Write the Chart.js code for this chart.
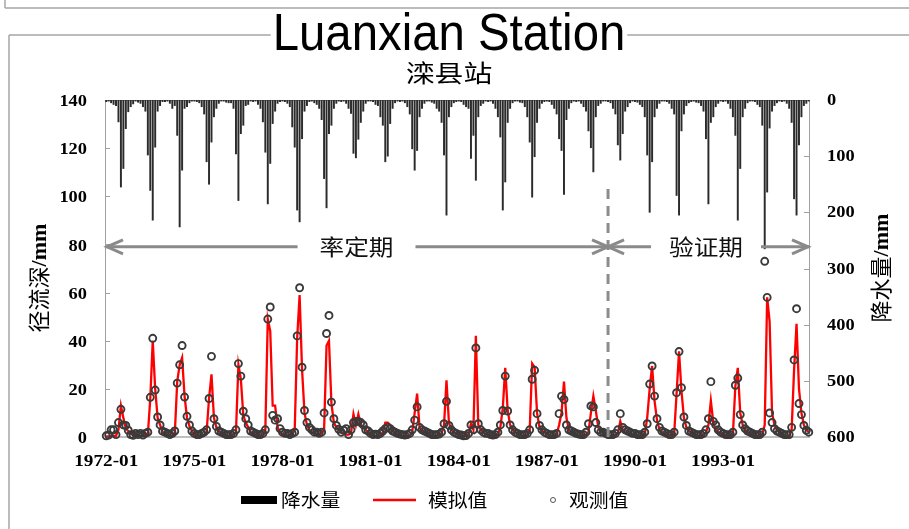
<!DOCTYPE html>
<html>
<head>
<meta charset="utf-8">
<script src="https://cdn.jsdelivr.net/npm/chart.js@4.4.1/dist/chart.umd.min.js"></script>
<style>
  html, body { margin: 0; padding: 0; background: #fff; overflow: hidden; }
  canvas { display: block; }
</style>
</head>
<body>
<canvas id="chart" width="909" height="529"></canvas>
<script>
// Monthly categories, 1972-01 .. 1995-12
const firstYear = 1972, lastYear = 1995;
const months = [];
for (let y = firstYear; y <= lastYear; y++) {
  for (let m = 1; m <= 12; m++) months.push(y + '-' + String(m).padStart(2, '0'));
}

// 降水量 (mm), one row per year
const precipitation = [
  3, 2, 5, 8, 10, 39, 155, 122, 51, 21, 12, 7,        // 1972
  2, 4, 6, 12, 20, 98, 161, 214, 84, 20, 10, 3,       // 1973
  3, 2, 6, 15, 10, 63, 226, 125, 15, 12, 5, 2,        // 1974
  2, 3, 5, 12, 25, 110, 150, 75, 30, 15, 6, 2,        // 1975
  2, 4, 5, 5, 15, 96, 179, 60, 45, 10, 8, 2,          // 1976
  3, 2, 8, 15, 39, 93, 185, 113, 42, 20, 6, 3,        // 1977
  2, 3, 6, 12, 48, 84, 196, 217, 69, 20, 10, 3,       // 1978
  2, 5, 8, 15, 35, 140, 192, 60, 45, 15, 6, 2,        // 1979
  3, 2, 6, 15, 24, 95, 103, 70, 40, 20, 6, 2,         // 1980
  2, 3, 8, 10, 30, 45, 110, 100, 42, 15, 5, 2,        // 1981
  3, 2, 5, 12, 25, 87, 125, 90, 30, 15, 6, 2,         // 1982
  2, 4, 6, 15, 20, 40, 98, 205, 30, 12, 5, 3,         // 1983
  2, 3, 8, 12, 15, 104, 63, 143, 30, 10, 6, 2,        // 1984
  3, 2, 6, 15, 30, 66, 196, 146, 40, 15, 5, 2,        // 1985
  2, 4, 5, 12, 30, 75, 173, 101, 40, 15, 6, 3,        // 1986
  2, 3, 8, 15, 25, 69, 90, 168, 35, 15, 5, 2,         // 1987
  3, 2, 6, 12, 20, 55, 85, 128, 30, 10, 6, 2,         // 1988
  2, 3, 5, 15, 25, 80, 107, 60, 20, 12, 5, 2,         // 1989
  3, 4, 8, 12, 30, 98, 200, 110, 30, 15, 6, 2,        // 1990
  2, 3, 6, 15, 25, 170, 205, 55, 25, 10, 5, 3,        // 1991
  2, 4, 5, 10, 20, 69, 185, 40, 30, 12, 6, 2,         // 1992
  3, 2, 6, 15, 30, 63, 214, 122, 30, 15, 5, 2,        // 1993
  2, 3, 8, 12, 45, 265, 164, 50, 20, 10, 5, 2,        // 1994
  3, 2, 6, 15, 40, 176, 205, 80, 30, 10, 6, 2         // 1995
];

// 模拟值: simulated runoff depth (mm)
const simulated = [
  0.3, 0.3, 0.5, 0.5, 0.5, 3, 13, 8, 3.5, 2.5, 1.5, 0.8,      // 1972
  0.8, 0.6, 0.5, 0.5, 0.6, 1, 16, 40, 20, 8, 5, 2,            // 1973
  1, 0.6, 0.5, 0.5, 1, 23, 30, 33, 17, 8, 4.5, 2.5,           // 1974
  1, 0.6, 0.5, 0.5, 0.8, 2, 16, 26, 8, 4, 2.5, 1.5,           // 1975
  1, 0.6, 0.5, 0.5, 1, 2, 30, 24, 9, 6, 4, 2,                 // 1976
  1, 0.6, 0.5, 0.5, 1, 3, 49, 44, 13, 13, 4, 2,               // 1977
  1.2, 0.8, 0.5, 0.5, 1, 3, 41, 59, 28, 10, 5, 3,             // 1978
  2, 1.5, 1, 1, 1.5, 3, 38, 40, 14, 6, 4, 3,                  // 1979
  2, 1.5, 1, 1, 1.5, 9.5, 5, 9.5, 5, 4, 3, 2,                 // 1980
  0.8, 0.5, 0.4, 0.4, 0.6, 1.5, 6, 6, 5, 2.5, 1.5, 1,         // 1981
  0.8, 0.5, 0.4, 0.4, 0.6, 2, 10, 18, 4, 2.5, 2, 1.5,         // 1982
  1, 0.6, 0.5, 0.5, 0.8, 1.5, 5, 23.5, 6, 3, 2, 1.2,          // 1983
  0.8, 0.5, 0.4, 0.4, 1, 5.5, 3, 42, 5, 3, 2, 1.2,            // 1984
  1, 0.6, 0.5, 0.5, 1, 4, 12, 28.7, 11, 5, 3, 2,              // 1985
  1.2, 0.8, 0.5, 0.5, 1, 3, 30.5, 29, 10, 4, 2.5, 2,          // 1986
  1.2, 0.8, 0.5, 0.5, 1, 5, 10, 23, 8, 3, 2, 1.5,             // 1987
  1, 0.6, 0.5, 0.5, 1, 2, 10, 17, 11, 4, 2.5, 2,              // 1988
  1, 0.6, 0.5, 0.5, 0.8, 1.5, 6.5, 3, 2, 1.5, 1.2, 1,         // 1989
  1, 0.6, 0.5, 0.5, 1, 8, 20, 29.5, 15, 7, 3, 2,              // 1990
  1.2, 0.8, 0.5, 0.5, 1, 18, 35.6, 19, 8, 4, 2.5, 2,          // 1991
  1, 0.6, 0.5, 0.5, 0.8, 2, 5, 15, 6, 3, 2, 1.5,              // 1992
  1, 0.6, 0.5, 0.5, 1, 21, 28.7, 10, 5, 3, 2, 1.5,            // 1993
  1, 0.6, 0.5, 0.5, 1, 5, 58, 48, 10, 5, 3, 2,                // 1994
  1, 0.6, 0.5, 0.5, 3, 28, 47, 20, 10, 5, 3, 2                // 1995
];

// 观测值: observed runoff depth (mm)
const observed = [
  0.5, 0.8, 3, 3, 1, 6, 11.5, 5, 4.8, 2.8, 1, 0.7,            // 1972
  1.5, 1, 1.5, 0.8, 1.5, 2, 16.5, 41, 19.5, 8.3, 5, 2.4,      // 1973
  2, 1.5, 1, 1.5, 2.5, 22.4, 30, 38, 16.6, 8.6, 5, 2.5,       // 1974
  1.5, 1, 1, 1.5, 2, 3, 16, 33.5, 7.6, 4.4, 2.5, 2,           // 1975
  1.5, 1, 1, 1, 1.5, 3, 30.5, 25.3, 10.7, 7.6, 5, 2.5,        // 1976
  2, 1.5, 1, 1, 1.5, 3, 49, 54, 9, 7, 7.6, 3.5,               // 1977
  2, 1.5, 1.5, 1, 1.5, 2, 42, 62, 29, 11, 6, 4,               // 1978
  3, 2, 2, 1.5, 2, 10, 43, 50.5, 14.5, 7.6, 4.8, 3.2,         // 1979
  2, 2.8, 3.5, 1, 3, 6, 6.5, 6.5, 6, 5, 3, 2.5,               // 1980
  1.5, 1, 1.2, 1, 1.5, 2.5, 3.5, 4, 3.5, 2.5, 2, 1.5,         // 1981
  1.2, 1, 0.8, 1, 1.5, 3, 7, 12.5, 4, 3, 2.5, 2,              // 1982
  1.5, 1, 1, 1, 1.2, 2, 5.5, 14.8, 4.8, 3, 2, 1.5,            // 1983
  1, 0.8, 0.5, 0.6, 1.5, 5, 3, 37, 5.5, 3, 2, 1.5,            // 1984
  1.5, 1, 0.8, 1, 2, 5, 11, 25.3, 10.8, 5, 3, 2,              // 1985
  1.5, 1, 1, 1, 1.5, 3, 24, 27.7, 9.7, 4.8, 3, 2,             // 1986
  1.5, 1, 1, 1, 1.5, 9.7, 17, 15.6, 5, 3, 2.5, 2,             // 1987
  1.5, 1.2, 1, 1, 2, 5.5, 12.9, 12.5, 6, 3, 2, 2,             // 1988
  1.5, 1, 1, 1, 1.5, 3, 9.7, 4, 3, 2.5, 2, 1.5,               // 1989
  1.5, 1, 1, 1, 2, 5.5, 22, 29.5, 17, 7.6, 4, 2.5,            // 1990
  2, 1.5, 1, 1, 2, 18.4, 35.5, 20.5, 8.3, 4.8, 2.5, 2,        // 1991
  1.5, 1, 1, 1, 1.5, 3, 7.6, 23, 6.5, 5, 3, 2,                // 1992
  1.5, 1, 1, 1, 2, 21.5, 24.5, 9.3, 5, 3.5, 2.5, 2,           // 1993
  1.5, 1, 1, 1, 2, 73, 58, 10, 6, 3.5, 2.5, 2,                // 1994
  1.5, 1, 1, 1, 4, 32, 53.3, 13.9, 9.3, 4.8, 2.8, 2           // 1995
];

// Axis ticks
const runoffTicks = [0, 20, 40, 60, 80, 100, 120, 140];
const rainTicks = [0, 100, 200, 300, 400, 500, 600];
const dateTicks = ['1972-01', '1975-01', '1978-01', '1981-01', '1984-01', '1987-01', '1990-01', '1993-01'];

// Calibration / validation split and the level of the period arrows
const splitMonth = '1989-02';
const periodArrowLevel = 79;
const splitLineTop = 103;

const SERIF_B = 'bold 17px "Liberation Serif", "Times New Roman", serif';
const CJK = '"Noto Sans CJK SC", "Noto Sans", sans-serif';

function stretchedText(ctx, s, x, y, font, align, sx, color, baseline) {
  ctx.save();
  ctx.font = font;
  ctx.fillStyle = color || '#000';
  ctx.textAlign = align;
  ctx.textBaseline = baseline || 'middle';
  ctx.translate(x, y);
  ctx.scale(sx, 1);
  ctx.fillText(s, 0, 0);
  ctx.restore();
}

function line(ctx, x1, y1, x2, y2) {
  ctx.beginPath(); ctx.moveTo(x1, y1); ctx.lineTo(x2, y2); ctx.stroke();
}

function chevron(ctx, tipX, y, dir) {
  // dir = -1 points left, +1 points right
  ctx.beginPath();
  ctx.moveTo(tipX - dir * 16, y - 7);
  ctx.lineTo(tipX, y);
  ctx.lineTo(tipX - dir * 16, y + 7);
  ctx.stroke();
}

function rotatedTitle(ctx, cx, cy, cjkPart, latinPart) {
  ctx.save();
  ctx.translate(cx, cy);
  ctx.rotate(-Math.PI / 2);
  ctx.fillStyle = '#000';
  ctx.textBaseline = 'middle';
  ctx.textAlign = 'left';
  const f1 = '22px ' + CJK;
  const f2 = 'bold 22px "Liberation Serif", serif';
  ctx.font = f1; const w1 = ctx.measureText(cjkPart).width;
  ctx.font = f2; const w2 = ctx.measureText(latinPart).width;
  let x = -(w1 + w2) / 2;
  ctx.font = f1; ctx.fillText(cjkPart, x, 0);
  ctx.font = f2; ctx.fillText(latinPart, x + w1, 1);
  ctx.restore();
}

const decor = {
  id: 'decor',
  beforeDraw(chart) {
    const ctx = chart.ctx;
    ctx.save();
    ctx.fillStyle = '#fff';
    ctx.fillRect(0, 0, chart.width, chart.height);

    // outer frames
    ctx.strokeStyle = '#a6a6a6';
    ctx.lineWidth = 1.5;
    line(ctx, 5, 0, 5, 8);
    line(ctx, 5, 8, chart.width, 8);

    // title
    const titleFont = '52px "Liberation Sans", Arial, sans-serif';
    ctx.font = titleFont;
    const tw = ctx.measureText('Luanxian Station').width * 0.91;
    const cx = 449;
    line(ctx, 9, 35, cx - tw / 2 - 2, 35);
    line(ctx, cx + tw / 2 + 2, 35, chart.width, 35);
    line(ctx, 9, 35, 9, chart.height);
    stretchedText(ctx, 'Luanxian Station', cx, 50, titleFont, 'center', 0.91, '#000', 'alphabetic');
    stretchedText(ctx, '滦县站', cx, 73, '24px ' + CJK, 'center', 1.2, '#000');
    ctx.restore();
  },
  beforeDatasetsDraw(chart) {
    const ctx = chart.ctx;
    const a = chart.chartArea;
    const xs = chart.scales.x, ys = chart.scales.y, y2 = chart.scales.y2;
    ctx.save();
    // plot frame
    ctx.strokeStyle = '#a0a0a0';
    ctx.lineWidth = 1;
    line(ctx, a.left + 0.5, a.top, a.left + 0.5, a.bottom);
    line(ctx, a.right - 0.5, a.top, a.right - 0.5, a.bottom);
    line(ctx, a.left, a.top + 0.5, a.right, a.top + 0.5);
    // inward tick marks
    runoffTicks.forEach(v => {
      const y = Math.round(ys.getPixelForValue(v)) + 0.5;
      line(ctx, a.left, y, a.left + 5, y);
    });
    rainTicks.forEach(v => {
      const y = Math.round(y2.getPixelForValue(v)) + 0.5;
      line(ctx, a.right - 6, y, a.right, y);
    });
    const half = (xs.getPixelForValue(1) - xs.getPixelForValue(0)) / 2;
    dateTicks.forEach(m => {
      const x = Math.round(xs.getPixelForValue(months.indexOf(m)) - half) + 0.5;
      line(ctx, x, a.bottom - 4, x, a.bottom);
    });
    // category axis line
    ctx.strokeStyle = '#bfbfbf';
    ctx.lineWidth = 2;
    line(ctx, a.left, a.bottom, a.right, a.bottom);
    ctx.restore();
  },
  afterDatasetsDraw(chart) {
    const ctx = chart.ctx;
    const a = chart.chartArea;
    const xs = chart.scales.x, ys = chart.scales.y;
    const splitX = xs.getPixelForValue(months.indexOf(splitMonth));
    const ay = ys.getPixelForValue(periodArrowLevel);
    ctx.save();
    // dashed split line
    ctx.strokeStyle = '#8c8c8c';
    ctx.lineWidth = 3;
    ctx.setLineDash([10, 7]);
    line(ctx, splitX, ys.getPixelForValue(splitLineTop), splitX, a.bottom);
    ctx.setLineDash([]);

    // period arrows
    ctx.strokeStyle = '#8a8a8a';
    ctx.lineWidth = 3;
    ctx.lineJoin = 'miter';
    const font = '22px ' + CJK;
    ctx.font = font;
    const sx = 1.12;
    const wCal = ctx.measureText('率定期').width * sx;
    const wVal = ctx.measureText('验证期').width * sx;
    const gap = 22;
    const cCal = (a.left + splitX) / 2;
    const cVal = (splitX + a.right) / 2 - 3;
    line(ctx, a.left + 1, ay, cCal - wCal / 2 - gap, ay);
    line(ctx, cCal + wCal / 2 + gap, ay, splitX, ay);
    chevron(ctx, a.left + 2, ay, -1);
    chevron(ctx, splitX, ay, 1);
    line(ctx, splitX, ay, cVal - wVal / 2 - gap + 4, ay);
    line(ctx, cVal + wVal / 2 + gap - 4, ay, a.right - 1, ay);
    chevron(ctx, splitX, ay, -1);
    chevron(ctx, a.right - 2, ay, 1);
    stretchedText(ctx, '率定期', cCal, ay, font, 'center', sx, '#111');
    stretchedText(ctx, '验证期', cVal, ay, font, 'center', sx, '#111');
    ctx.restore();
  },
  afterDraw(chart) {
    const ctx = chart.ctx;
    const a = chart.chartArea;
    const xs = chart.scales.x, ys = chart.scales.y, y2 = chart.scales.y2;
    ctx.save();
    // tick labels
    runoffTicks.forEach(v => {
      stretchedText(ctx, String(v), a.left - 18, ys.getPixelForValue(v) + 2, 'bold 16px "Liberation Serif", serif', 'right', 1.15, '#000');
    });
    rainTicks.forEach(v => {
      stretchedText(ctx, String(v), a.right + 17, y2.getPixelForValue(v) + 1, 'bold 16px "Liberation Serif", serif', 'left', 1.15, '#000');
    });
    dateTicks.forEach(m => {
      stretchedText(ctx, m, xs.getPixelForValue(months.indexOf(m)), a.bottom + 25, SERIF_B, 'center', 1.13, '#000');
    });

    // axis titles
    rotatedTitle(ctx, 39, 278, '径流深', '/mm');
    rotatedTitle(ctx, 881, 268, '降水量', '/mm');

    // legend
    const ly = 500;
    const lf = '18px ' + CJK;
    ctx.fillStyle = '#000';
    ctx.fillRect(241, ly - 4, 36, 8);
    stretchedText(ctx, '降水量', 281, ly, lf, 'left', 1.1, '#000');
    ctx.strokeStyle = '#ff0000';
    ctx.lineWidth = 2.5;
    line(ctx, 373, ly, 416, ly);
    stretchedText(ctx, '模拟值', 428, ly, lf, 'left', 1.1, '#000');
    ctx.strokeStyle = '#555';
    ctx.lineWidth = 1;
    ctx.beginPath(); ctx.arc(553, ly, 2.5, 0, Math.PI * 2); ctx.stroke();
    stretchedText(ctx, '观测值', 569, ly, lf, 'left', 1.1, '#000');
    ctx.restore();
  }
};

new Chart(document.getElementById('chart').getContext('2d'), {
  type: 'bar',
  data: {
    labels: months,
    datasets: [
      {
        type: 'bar', label: '降水量', data: precipitation, yAxisID: 'y2',
        backgroundColor: '#2b2b2b', barThickness: 1.3, order: 3
      },
      {
        type: 'line', label: '模拟值', data: simulated, yAxisID: 'y',
        borderColor: '#ff0000', borderWidth: 2.3, pointRadius: 0, tension: 0,
        fill: false, order: 2, clip: false
      },
      {
        type: 'line', label: '观测值', data: observed, yAxisID: 'y',
        showLine: false, pointRadius: 3.5, pointBorderWidth: 1.9,
        pointBorderColor: '#3a3a3a', pointBackgroundColor: 'rgba(255,255,255,0)',
        order: 1, clip: false
      }
    ]
  },
  options: {
    responsive: false,
    animation: false,
    devicePixelRatio: 1,
    events: [],
    layout: { padding: { left: 105, right: 99, top: 100, bottom: 92 } },
    plugins: { legend: { display: false }, tooltip: { enabled: false } },
    scales: {
      x: { type: 'category', display: false, offset: true },
      y: { display: false, position: 'left', min: 0, max: 140 },
      y2: { display: false, position: 'right', min: 0, max: 600, reverse: true }
    }
  },
  plugins: [decor]
});
</script>
</body>
</html>
